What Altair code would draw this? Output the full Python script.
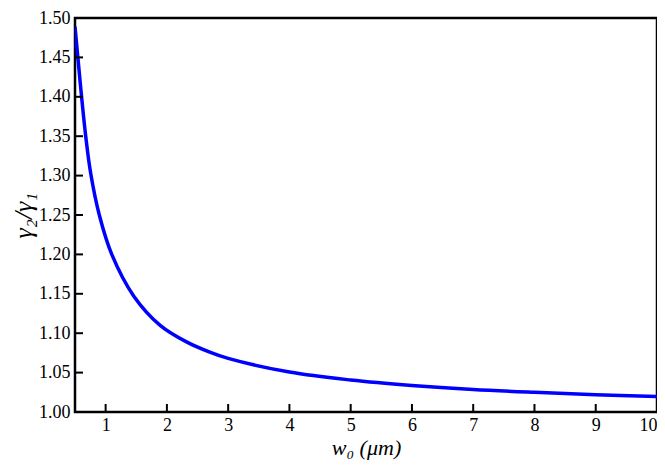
import altair as alt
import pandas as pd

# values
w0 = [0.5, 0.55, 0.61, 0.675, 0.756, 0.90, 1.10, 1.46, 1.89, 2.32, 2.70, 3.0,
      4.0, 5.0, 6.0, 7.0, 8.0, 9.0, 10.0]
ratio = [1.489, 1.447, 1.398, 1.350, 1.303, 1.249, 1.200, 1.147, 1.110, 1.089, 1.076, 1.068,
         1.0507, 1.0406, 1.0337, 1.0286, 1.025, 1.022, 1.0197]
x_ticks = [1, 2, 3, 4, 5, 6, 7, 8, 9, 10]
y_ticks = [1.00, 1.05, 1.10, 1.15, 1.20, 1.25, 1.30, 1.35, 1.40, 1.45, 1.50]

curve = pd.DataFrame({"x": w0, "y": ratio})
xt = pd.DataFrame({"x": x_ticks})
yt = pd.DataFrame({"y": y_ticks})

W, H = 582, 394
FONT = "Liberation Serif"

xscale = alt.Scale(domain=[0.5, 10], nice=False, zero=False)
yscale = alt.Scale(domain=[1.0, 1.5], nice=False, zero=False)

xaxis = alt.Axis(values=x_ticks, ticks=False, domain=False, grid=False,
                 labelFont=FONT, labelFontSize=18, labelColor="black",
                 labelPadding=4, labelFlush=5, labelFlushOffset=0,
                 labelOverlap=False,
                 title="w₀ (μm)", titleFont=FONT, titleFontSize=22,
                 titleFontStyle="italic",
                 titleFontWeight="normal", titleColor="black", titlePadding=3)
yaxis = alt.Axis(values=y_ticks, ticks=False, domain=False, grid=False,
                 format=".2f", labelFont=FONT, labelFontSize=18, labelColor="black",
                 labelPadding=5, labelOverlap=False, labelFlush=False,
                 title="γ₂/γ₁", titleFont=FONT, titleFontSize=26,
                 titleFontStyle="italic",
                 titleFontWeight="normal", titleColor="black", titlePadding=2)

line = alt.Chart(curve).mark_line(color="#0000ff", strokeWidth=3.5,
                                  interpolate="catmull-rom", clip=True).encode(
    x=alt.X("x:Q", scale=xscale, axis=xaxis),
    y=alt.Y("y:Q", scale=yscale, axis=yaxis),
)

ytick_rules = alt.Chart(yt).mark_rule(color="black", strokeWidth=2).encode(
    y=alt.Y("y:Q", scale=yscale, axis=yaxis),
    x=alt.value(0),
    x2=alt.value(8),
)

xtick_rules = alt.Chart(xt).mark_rule(color="black", strokeWidth=2).encode(
    x=alt.X("x:Q", scale=xscale, axis=xaxis),
    y=alt.value(H),
    y2=alt.value(H - 8),
)

chart = alt.layer(line, ytick_rules, xtick_rules).properties(
    width=W, height=H,
    autosize=alt.AutoSizeParams(type="none"),
    padding={"left": 67, "top": 10, "right": 0, "bottom": 48},
    background="white",
).configure_view(stroke="black", strokeWidth=2.5)

chart.save("out.html", embed_options={"renderer": "svg", "actions": False})
